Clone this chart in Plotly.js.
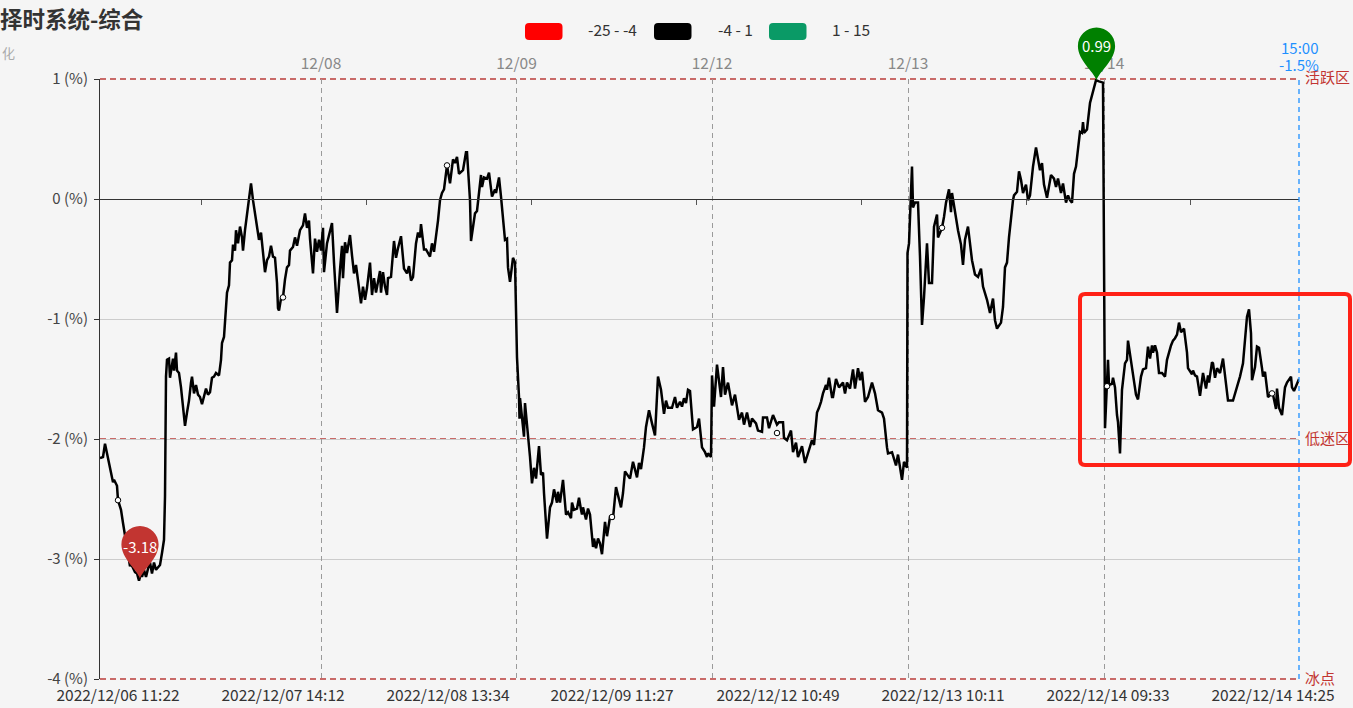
<!DOCTYPE html>
<html><head><meta charset="utf-8">
<script src="https://cdn.plot.ly/plotly-3.0.1.min.js"></script>
<style>html,body{margin:0;padding:0;background:#f5f5f5;overflow:hidden}#c{width:1353px;height:708px}</style>
</head><body><div id="c"></div>
<script>
const chartTitle = '择时系统-综合';
const rangeLabels = ['-25 - -4', '-4 - 1', '1 - 15'];
const rangeColors = ['#ff0000', '#000000', '#0a9a66'];
const bottomTickIdx = [18,183,348,512,678,843,1008,1173];
const bottomTickText = ['2022/12/06 11:22','2022/12/07 14:12','2022/12/08 13:34','2022/12/09 11:27','2022/12/12 10:49','2022/12/13 10:11','2022/12/14 09:33','2022/12/14 14:25'];
const minorTickIdx = [101,266,431,596,761,926,1090];
const dayIdx = [221,416.5,612,808,1004];
const dayText = ['12/08','12/09','12/12','12/13','12/14'];
const yTicks = [1,0,-1,-2,-3,-4];
const levels = [{v:1,t:'活跃区'},{v:-2,t:'低迷区'},{v:-4,t:'冰点'}];

const seg1=[[0,-2.16],[3,-2.15],[5,-2.04],[7,-2.12],[9,-2.2],[11,-2.27],[13,-2.36],[14,-2.34],[16,-2.37],[17,-2.39],[18,-2.51],[20,-2.56],[21,-2.59],[23,-2.7],[25,-2.81],[27,-2.92],[29,-3.03],[30,-3.06],[31,-3.04],[33,-3.08],[35,-3.11],[37,-3.12],[39,-3.18],[41,-3.12],[42,-3.15],[44,-3.09],[46,-3.15],[48,-3.08],[50,-3.03],[52,-3.12],[54,-3.03],[56,-3.09],[58,-3.07],[60,-3.05],[62,-2.95],[64,-2.84],[65,-2.48],[65.5,-2.0],[66,-1.48],[67,-1.34],[69,-1.33],[70,-1.49],[72,-1.36],[73,-1.33],[74,-1.43],[76,-1.28],[77,-1.43],[79,-1.45],[81,-1.57],[83,-1.73],[85,-1.89],[87,-1.78],[89,-1.68],[91,-1.53],[92,-1.48],[94,-1.62],[96,-1.55],[98,-1.63],[100,-1.65],[102,-1.71],[104,-1.65],[106,-1.58],[108,-1.63],[110,-1.61],[112,-1.49],[114,-1.48],[116,-1.45],[119,-1.47]];
const seg2=[[121,-1.34],[122,-1.2],[124,-1.15],[125,-0.99],[126,-0.95],[127,-0.78],[129,-0.72],[130,-0.53],[132,-0.51],[133,-0.38],[135,-0.43],[136,-0.26],[138,-0.37],[140,-0.23],[142,-0.32],[143,-0.43],[145,-0.26],[147,-0.12],[149,-0.03],[151,0.13],[153,-0.01],[155,-0.12],[157,-0.23],[159,-0.34],[161,-0.28],[162,-0.37],[164,-0.51],[165,-0.61],[167,-0.51],[169,-0.48],[171,-0.39],[173,-0.48],[175,-0.49],[177,-0.7],[178,-0.91],[179,-0.93],[181,-0.83],[183,-0.82],[185,-0.67],[187,-0.57],[189,-0.55],[190,-0.43],[193,-0.4],[195,-0.32],[197,-0.39],[200,-0.26],[203,-0.22],[205,-0.12],[207,-0.24],[209,-0.18],[210,-0.33],[212,-0.55],[213,-0.62],[215,-0.33],[217,-0.44],[219,-0.34],[221,-0.43],[223,-0.24],[224,-0.61]];
const seg3=[[227,-0.37],[232,-0.2],[234,-0.53],[237,-0.95],[240,-0.59],[242,-0.39],[243,-0.66],[245,-0.36],[247,-0.45],[250,-0.3],[252,-0.47],[254,-0.62],[256,-0.55],[258,-0.7],[261,-0.87],[263,-0.73],[265,-0.84],[267,-0.74],[270,-0.53],[272,-0.8],[274,-0.66],[276,-0.78],[278,-0.67],[280,-0.6],[281,-0.78],[283,-0.61],[285,-0.73],[287,-0.8],[288,-0.66],[291,-0.65],[294,-0.35],[296,-0.49],[298,-0.41],[301,-0.31],[304,-0.58],[307,-0.62],[309,-0.56],[311,-0.68],[313,-0.65],[316,-0.37],[318,-0.28],[320,-0.32],[321,-0.21],[324,-0.42],[326,-0.42],[330,-0.48],[332,-0.37],[334,-0.44],[338,-0.18],[340,-0.01],[342,0.05],[344,0.08],[347,0.28],[350,0.13],[353,0.33],[355,0.3],[357,0.35],[359,0.21],[363,0.24],[366,0.39],[367,0.39]];
const seg4=[[370,-0.01],[371,-0.35],[373,-0.23],[375,-0.12],[377,-0.1],[379,0.08],[381,0.2],[382,0.1],[384,0.18],[387,0.17],[389,0.22],[392,0.02],[395,0.08],[396,0.05],[399,0.18],[401,0.02],[403,-0.19],[405,-0.34],[407,-0.33],[408,-0.57],[410,-0.69],[412,-0.52],[413,-0.49],[415,-0.53],[416,-0.98],[417,-1.32],[419,-1.65],[419.5,-1.83],[420,-1.66],[422,-1.85],[424,-1.98],[425,-1.7],[427,-1.88],[428,-1.93],[430,-2.15],[432,-2.37],[434,-2.24],[436,-2.33],[439,-2.06],[441,-2.3],[443,-2.28],[444,-2.45],[447,-2.83],[450,-2.57],[452,-2.53],[454,-2.42],[457,-2.53],[458,-2.44],[460,-2.53],[463,-2.34],[466,-2.63],[468,-2.61],[471,-2.66],[472,-2.53],[474,-2.59],[477,-2.58],[479,-2.49],[481,-2.59],[482,-2.63],[483,-2.57],[486,-2.67],[488,-2.58],[490,-2.63],[493,-2.9],[494,-2.83],[496,-2.91],[498,-2.83],[500,-2.87],[502,-2.96],[505,-2.69],[507,-2.81],[510,-2.65]];
const seg5=[[513,-2.66],[516,-2.4],[518,-2.47],[521,-2.57],[523,-2.45],[525,-2.27],[530,-2.33],[533,-2.19],[537,-2.32],[539,-2.2],[541,-2.25],[544,-2.07],[546,-1.9],[549,-1.76],[552,-1.87],[555,-1.97],[558,-1.48],[561,-1.59],[564,-1.79],[566,-1.68],[568,-1.74],[572,-1.74],[575,-1.65],[577,-1.74],[580,-1.69],[582,-1.73],[584,-1.66],[586,-1.7],[588,-1.59],[590,-1.6],[593,-1.92],[597,-1.9],[599,-1.83],[602,-2.07],[605,-2.11],[607,-2.15],[608,-2.12],[611,-2.15],[612,-1.47],[614,-1.73],[617,-1.38],[619,-1.53],[621,-1.65],[623,-1.4],[625,-1.63],[628,-1.53],[632,-1.72],[635,-1.63],[637,-1.74],[639,-1.84],[642,-1.78],[644,-1.88],[647,-1.78],[650,-1.9],[652,-1.83],[656,-1.87],[658,-1.93],[662,-1.94],[663,-1.82],[667,-1.82],[669,-1.91],[673,-1.8],[677,-1.88],[679,-1.86],[683,-1.86],[684,-1.99],[687,-2.01],[691,-1.93],[693,-2.11],[696,-2.03],[698,-2.15],[702,-2.06],[705,-2.2],[708,-2.12],[712,-2.01],[714,-2.05],[717,-1.78],[719,-1.74],[721,-1.69],[723,-1.62],[726,-1.55],[727,-1.59],[729,-1.49],[732,-1.65],[733,-1.65],[736,-1.5],[739,-1.57],[743,-1.53],[745,-1.62],[747,-1.53],[750,-1.58],[753,-1.42],[755,-1.58],[758,-1.41],[760,-1.51],[762,-1.44],[765,-1.69],[768,-1.65],[772,-1.53],[775,-1.62],[778,-1.76],[782,-1.78],[784,-1.83],[787,-2.07],[788,-2.12],[792,-2.11],[794,-2.16],[796,-2.22],[798,-2.13],[800,-2.25],[802,-2.34],[804,-2.19],[807,-2.24]];
const seg6=[[807.5,-0.45],[809,-0.37],[812,0.27],[813,-0.07],[815,-0.03],[818,-0.03],[820,-0.48],[822,-1.05],[824,-0.82],[827,-0.37],[829,-0.7],[832,-0.7],[834,-0.23],[837,-0.13],[838,-0.32],[842,-0.24],[844,-0.15],[846,-0.03],[849,0.08],[851,-0.11],[852,0.05],[855,-0.11],[858,-0.26],[861,-0.38],[863,-0.55],[865,-0.34],[868,-0.23],[870,-0.37],[872,-0.51],[875,-0.63],[878,-0.65],[881,-0.58],[883,-0.73],[887,-0.84],[890,-0.95],[893,-0.83],[895,-1.01],[897,-1.08],[901,-1.03],[903,-0.9],[905,-0.57],[907,-0.53],[909,-0.32],[913,-0.01],[914,0.03],[917,0.06],[919,0.23],[921,0.16],[923,0.05],[926,0.12],[928,-0.01],[930,0.03],[933,0.27],[936,0.43],[939,0.31],[940,0.24],[942,0.3],[944,0.12],[947,0.01],[951,0.2],[954,0.17],[956,0.1],[958,0.17],[961,0.05],[963,0.13],[966,-0.03],[968,0.03],[970,-0.01],[972,-0.03],[974,0.21],[976,0.27],[979,0.52],[980,0.56],[982,0.55],[983,0.64],[984,0.55],[987,0.58],[990,0.8],[993,0.89],[996,0.99],[999,0.98],[1003,0.97]];
const seg7=[[1005,-1.91],[1008,-1.34],[1009,-1.55],[1012,-1.54],[1013,-1.49],[1015,-1.57],[1017,-1.8],[1018,-1.86],[1020,-2.12],[1022,-1.59],[1025,-1.37],[1027,-1.34],[1028,-1.18],[1031,-1.34],[1033,-1.48],[1036,-1.63],[1038,-1.67],[1041,-1.48],[1043,-1.42],[1046,-1.41],[1048,-1.23],[1050,-1.33],[1052,-1.22],[1053,-1.28],[1055,-1.22],[1057,-1.28],[1059,-1.45],[1062,-1.45],[1065,-1.48],[1067,-1.34],[1071,-1.22],[1073,-1.18],[1075,-1.16],[1077,-1.13],[1079,-1.03],[1081,-1.11],[1084,-1.08],[1087,-1.28],[1088,-1.41],[1092,-1.46],[1093,-1.43],[1095,-1.47],[1097,-1.48],[1100,-1.64],[1103,-1.45],[1106,-1.58],[1108,-1.47],[1109,-1.53],[1112,-1.36],[1113,-1.37],[1115,-1.49],[1117,-1.41],[1120,-1.45],[1123,-1.33],[1125,-1.47],[1128,-1.68],[1133,-1.68],[1137,-1.57],[1140,-1.48],[1143,-1.37],[1145,-1.18],[1147,-0.98],[1149,-0.92],[1151,-1.12],[1152,-1.51],[1155,-1.4],[1157,-1.23],[1159,-1.24],[1162,-1.41],[1163,-1.48],[1165,-1.44],[1168,-1.65],[1172,-1.62],[1173,-1.63],[1176,-1.75],[1177,-1.58],[1179,-1.74],[1182,-1.8],[1185,-1.57],[1187,-1.53],[1191,-1.48],[1192,-1.57],[1194,-1.6],[1197,-1.53],[1199,-1.5]];
const series = [].concat(seg1,seg2,seg3,seg4,seg5,seg6,seg7);
const sampleIdx = series.map(p=>p[0]);
const rateValues = series.map(p=>p[1]);

const dotIdx = [18,183,347,512,677,842,1007,1172];
const dotVal = [-2.51,-0.82,0.28,-2.65,-1.95,-0.24,-1.56,-1.62];
const maxPoint = {i:996.5, v:0.99, label:'0.99', color:'#008000'};
const minPoint = {i:40, v:-3.18, label:'-3.18', color:'#c23531'};
const lastPoint = {t:'15:00', v:'-1.5%'};

const W=1353,H=708,L=100,T=79,PW=1199,PH=600,XMAX=1199,YMIN=-4,YMAX=1;
const fx=px=>(px-L)/PW, fy=py=>(T+PH-py)/PH;
const vy=v=>(v-YMIN)/(YMAX-YMIN), ix=i=>i/XMAX;
const FONT='"Noto Sans CJK SC","Microsoft YaHei",sans-serif';
function pin(p,lift){
  const X=d=>ix(p.i)+d/PW, Y=d=>vy(p.v)+(d+lift)/PH, r=18.6, c=34, k=10.3;
  const path=`M ${X(0)} ${Y(0)} C ${X(-3)} ${Y(9)} ${X(-r)} ${Y(20)} ${X(-r)} ${Y(c)} C ${X(-r)} ${Y(c+k)} ${X(-k)} ${Y(c+r)} ${X(0)} ${Y(c+r)} C ${X(k)} ${Y(c+r)} ${X(r)} ${Y(c+k)} ${X(r)} ${Y(c)} C ${X(r)} ${Y(20)} ${X(3)} ${Y(9)} ${X(0)} ${Y(0)} Z`;
  return {type:'path',layer:'above',xref:'paper',yref:'paper',path:path,fillcolor:p.color,line:{width:0}};
}
function rr(x0,y0,x1,y1,r){
  const X0=fx(x0),X1=fx(x1),Y0=fy(y0),Y1=fy(y1),rx=r/PW,ry=r/PH;
  return `M ${X0+rx} ${Y0} L ${X1-rx} ${Y0} Q ${X1} ${Y0} ${X1} ${Y0-ry} L ${X1} ${Y1+ry} Q ${X1} ${Y1} ${X1-rx} ${Y1} L ${X0+rx} ${Y1} Q ${X0} ${Y1} ${X0} ${Y1+ry} L ${X0} ${Y0-ry} Q ${X0} ${Y0} ${X0+rx} ${Y0} Z`;
}
const shapes=[];
levels.forEach(l=>shapes.push({type:'line',layer:'below',xref:'paper',yref:'paper',x0:0,x1:1,y0:vy(l.v),y1:vy(l.v),line:{color:'#c96a68',width:1.8,dash:'6px,4px'}}));
shapes.push({type:'line',layer:'above',xref:'paper',yref:'paper',x0:1,x1:1,y0:0,y1:1,line:{color:'#1e90ff',width:1.3,dash:'5px,4px'}});
rangeColors.forEach((c,k)=>{const x0=[525,654,769][k];shapes.push({type:'path',layer:'above',xref:'paper',yref:'paper',path:rr(x0,23,x0+37.5,40,4),fillcolor:c,line:{width:0}});});
shapes.push({type:'path',layer:'above',xref:'paper',yref:'paper',path:rr(1080,294,1350,465,5),line:{color:'#ff2116',width:4},fillcolor:'rgba(0,0,0,0)'});
shapes.push(pin(maxPoint,0),pin(minPoint,2));

const ann=[];
const txt=(px,py,t,size,color,anchor)=>ann.push({xref:'paper',yref:'paper',x:fx(px),y:fy(py),text:t,showarrow:false,xanchor:anchor||'center',yanchor:'middle',font:{size:size,color:color,family:FONT},borderpad:0,borderwidth:0});
txt(8,52,'化',13,'#aaaaaa');
rangeLabels.forEach((t,k)=>txt([588,718,832][k],29.5,t,15.5,'#333333','left'));
levels.forEach(l=>txt(1305,T+(YMAX-l.v)*PH/(YMAX-YMIN)-2,l.t,15,'#c23531','left'));
txt(1299,47.5,lastPoint.t,15,'#1e90ff');
txt(1299,64,lastPoint.v,15,'#1e90ff');
ann.push({xref:'paper',yref:'paper',x:ix(maxPoint.i),y:fy(45),text:maxPoint.label,showarrow:false,xanchor:'center',yanchor:'middle',font:{size:15,color:'#ffffff',family:FONT}});
ann.push({xref:'paper',yref:'paper',x:ix(minPoint.i),y:fy(546),text:minPoint.label,showarrow:false,xanchor:'center',yanchor:'middle',font:{size:15,color:'#ffffff',family:FONT}});

const traces=[
 {x:sampleIdx,y:rateValues,mode:'lines',line:{color:'#000000',width:2.5,shape:'linear'},hoverinfo:'skip',showlegend:false,cliponaxis:false},
 {x:dotIdx,y:dotVal,mode:'markers',marker:{size:5.5,color:'#ffffff',line:{color:'#000000',width:1}},hoverinfo:'skip',showlegend:false,cliponaxis:false},
 {x:[0,XMAX],y:[null,null],xaxis:'x2',mode:'lines',showlegend:false,hoverinfo:'skip'},
 {x:[0,XMAX],y:[null,null],xaxis:'x3',mode:'lines',showlegend:false,hoverinfo:'skip'}
];
const layout={
 width:W,height:H,paper_bgcolor:'#f5f5f5',plot_bgcolor:'#f5f5f5',showlegend:false,
 margin:{l:L,r:W-L-PW,t:T,b:H-T-PH,pad:0},
 font:{family:FONT,color:'#333333',size:14},
 title:{text:chartTitle,x:0,xref:'paper',xanchor:'left',y:1-20/H,yref:'container',yanchor:'middle',font:{size:22.5,color:'#333333',family:FONT,weight:'bold'},pad:{l:-L,t:0,b:0,r:0}},
 xaxis:{range:[0,XMAX],tickmode:'array',tickvals:bottomTickIdx,ticktext:bottomTickText,ticks:'',ticklabelstandoff:5,showgrid:false,zeroline:false,showline:false,tickfont:{size:15.5,color:'#333333'},tickangle:0,automargin:false},
 xaxis2:{range:[0,XMAX],overlaying:'x',side:'top',anchor:'y',tickmode:'array',tickvals:dayIdx,ticktext:dayText,ticks:'',ticklabelstandoff:6,showgrid:true,griddash:'5px,4px',gridcolor:'#9a9a9a',gridwidth:1.3,zeroline:false,showline:false,tickfont:{size:15.5,color:'#888888'},tickangle:0,automargin:false},
 xaxis3:{range:[0,XMAX],overlaying:'x',anchor:'free',position:0.8,side:'bottom',tickmode:'array',tickvals:minorTickIdx,ticks:'outside',ticklen:5,tickcolor:'#555555',tickwidth:1,showticklabels:false,showgrid:false,zeroline:false,showline:true,linecolor:'#333333',linewidth:1,automargin:false},
 yaxis:{range:[YMIN,YMAX],tickmode:'array',tickvals:yTicks,ticktext:yTicks.map(v=>v+' (%)'),ticks:'outside',ticklen:5,tickcolor:'#333333',ticklabelstandoff:3,showgrid:true,gridcolor:'#cccccc',gridwidth:1,zeroline:false,showline:true,linecolor:'#333333',linewidth:1,tickfont:{size:15,color:'#444444'},automargin:false},
 shapes:shapes,annotations:ann
};
Plotly.newPlot('c',traces,layout,{displayModeBar:false,responsive:false});
</script></body></html>
